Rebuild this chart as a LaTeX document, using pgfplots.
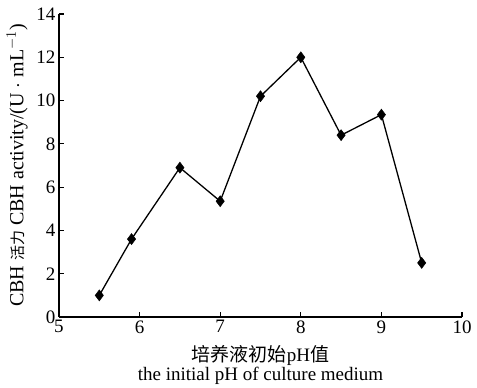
\documentclass[border=0pt]{standalone}
\usepackage{pgfplots}
\pgfplotsset{compat=1.18}
\usepackage{fontspec}
\setmainfont{Liberation Serif}
\newfontfamily\cjk{Noto Sans CJK SC}
\begin{document}
\begin{tikzpicture}
\begin{axis}[
  scale only axis,
  width=403pt, height=303pt,
  xmin=5, xmax=10, ymin=0, ymax=14,
  xtick={5,6,7,8,9,10}, ytick={0,2,4,6,8,10,12,14},
  axis lines=left,
  axis line style={line width=1.4pt, -},
  tick align=inside,
  major tick length=5pt,
  tick style={line width=1.2pt, black},
  /pgf/number format/assume math mode=true,
  ticklabel style={font=\fontsize{19}{21}\selectfont},
  xticklabel style={yshift=0pt},
  yticklabel style={xshift=0pt},
  xlabel={{\cjk 培养液初始}pH{\cjk 值}\\the initial pH of culture medium},
  xlabel style={align=center, font=\fontsize{19}{19}\selectfont, inner sep=0pt,
    at={(axis description cs:0.5,-0.093)}, anchor=north},
  ylabel={CBH {\fontsize{15}{17}\selectfont\cjk 活力} CBH activity/(U $\cdot$ mL$^{-1}$)},
  ylabel style={font=\fontsize{20}{22}\selectfont, inner sep=0pt,
    at={(axis description cs:-0.104,0.5)}, anchor=center},
]
\addplot[black, line width=1.3pt, mark=diamond*, mark size=5.5pt, mark options={fill=black, line width=0.5pt}] coordinates {
(5.5,1.0) (5.9,3.6) (6.5,6.9) (7.0,5.35) (7.5,10.2) (8.0,12.0) (8.5,8.4) (9.0,9.35) (9.5,2.5)
};
\end{axis}
\pgfresetboundingbox
\path (-59pt,-71pt) rectangle (418pt,317pt);
\end{tikzpicture}
\end{document}
